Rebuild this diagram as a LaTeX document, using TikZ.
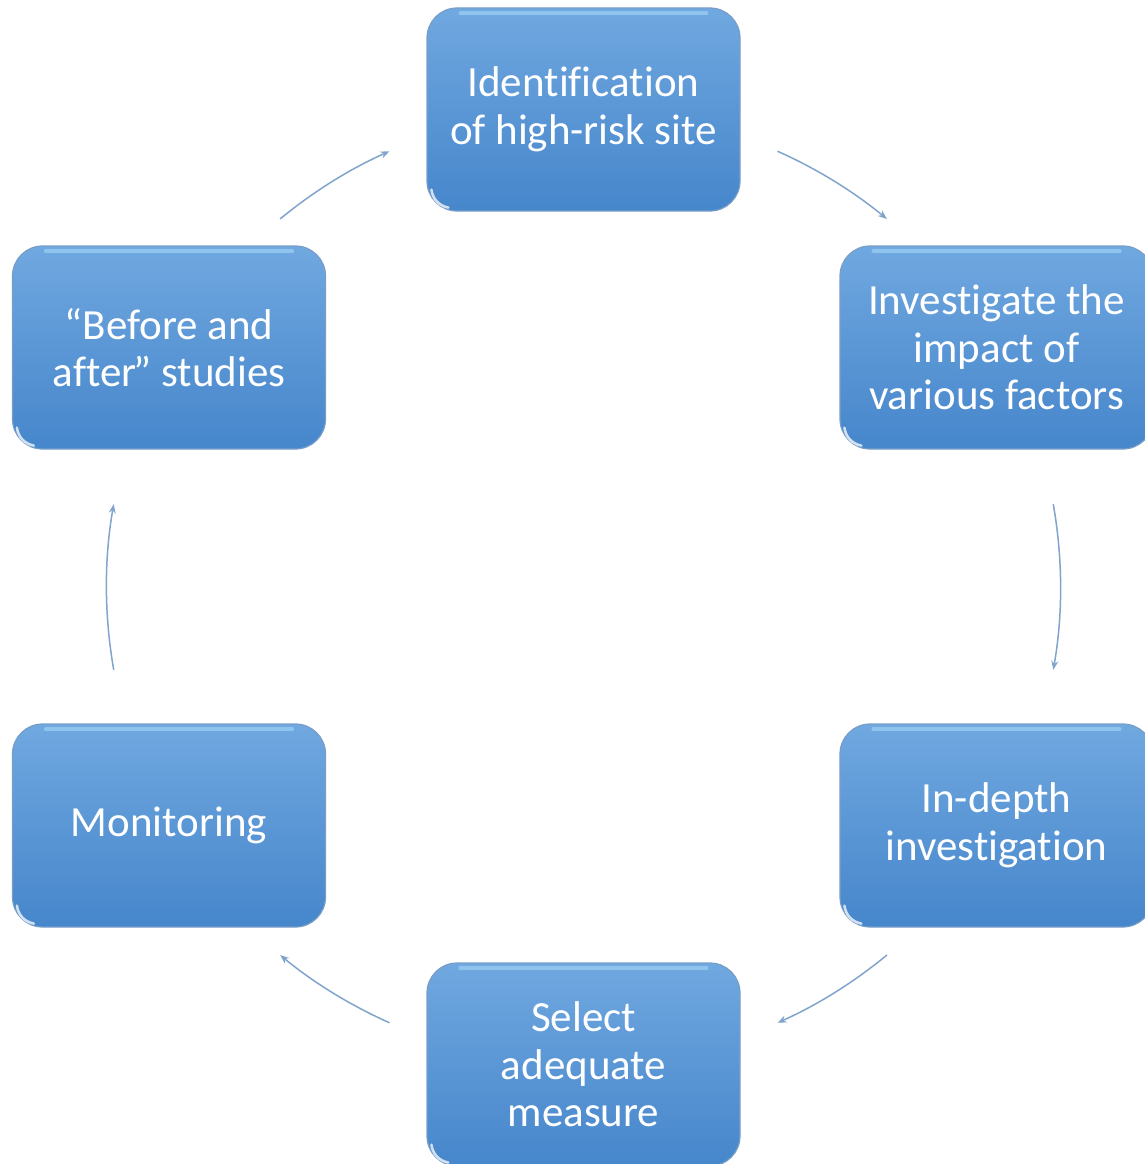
\documentclass[tikz,border=0pt]{standalone}
\usepackage{fontspec}
\setmainfont[Ligatures={NoCommon}]{Carlito}
\usetikzlibrary{arrows.meta,calc}
\definecolor{boxtop}{RGB}{112,168,224}
\definecolor{boxbot}{RGB}{70,134,203}
\definecolor{boxedge}{RGB}{120,158,200}
\definecolor{arrcol}{RGB}{128,164,204}
\definecolor{gloss}{RGB}{170,220,250}
\begin{document}
\begin{tikzpicture}[x=1pt,y=-1pt,
  stage/.style={rounded corners=30pt, minimum width=313pt, minimum height=203pt,
    top color=boxtop, bottom color=boxbot, draw=boxedge, line width=1.2pt,
    text=white, align=center, inner sep=0pt,
    font=\fontsize{43}{47.5}\selectfont},
  arr/.style={draw=arrcol, line width=1.5pt, -{Stealth[length=9pt,width=7pt]}},
  topgloss/.style={draw=gloss, line width=4pt, opacity=0.55, line cap=round},
  cornergloss/.style={draw=white, line width=2.5pt, opacity=0.75, line cap=round}]
\clip (0,0) rectangle (1145,1164);
\coordinate (c) at (583.5,587);
\node[stage] (top) at (583.5,109.5) {Identification\\of high-risk site};
\node[stage] (rt)  at (996.5,347.5) {Investigate the\\impact of\\various factors};
\node[stage] (rb)  at (996.5,825.5) {In-depth\\investigation};
\node[stage] (bot) at (583.5,1064.5) {Select\\adequate\\measure};
\node[stage] (lb)  at (169,825.5) {Monitoring};
\node[stage] (lt)  at (169,347.5) {“Before and\\after\kern-3pt” studies};
\foreach \n in {top,rt,rb,bot,lb,lt}{
  \draw[topgloss] ([xshift=34pt,yshift=-6pt]\n.north west) -- ([xshift=-34pt,yshift=-6pt]\n.north east);
  \draw[cornergloss] ([xshift=5pt,yshift=22pt]\n.south west) to[bend right=35] ([xshift=22pt,yshift=4pt]\n.south west);
}
\draw[arr] (c) ++(-66:477) arc[start angle=-66, end angle=-50.5, radius=477];
\draw[arr] (c) ++(-10:477) arc[start angle=-10, end angle=10, radius=477];
\draw[arr] (c) ++(50.5:477) arc[start angle=50.5, end angle=66, radius=477];
\draw[arr] (c) ++(114:477) arc[start angle=114, end angle=129.5, radius=477];
\draw[arr] (c) ++(170:477) arc[start angle=170, end angle=190, radius=477];
\draw[arr] (c) ++(230.5:477) arc[start angle=230.5, end angle=246, radius=477];
\end{tikzpicture}
\end{document}
